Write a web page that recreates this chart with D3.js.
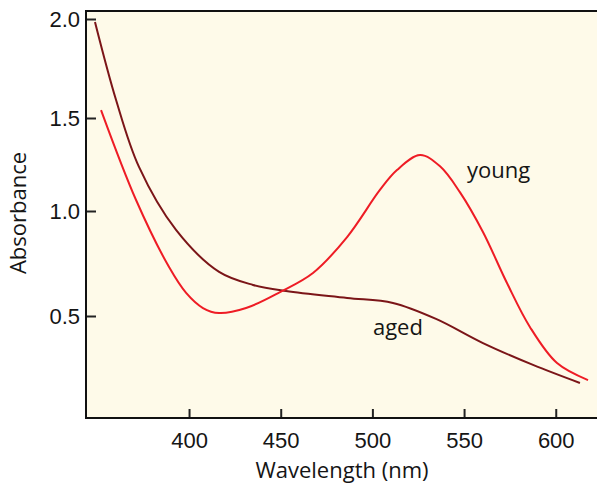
<!DOCTYPE html>
<html lang="en">
<head>
<meta charset="utf-8">
<title>Absorbance</title>
<script src="https://d3js.org/d3.v7.min.js"></script>
<style>
  body { margin: 0; background: #fff; }
  svg { display: block; font-family: "Open Sans", sans-serif; }
  .tick text { font-size: 22px; fill: #151515; }
  .tick line { stroke: #222; stroke-width: 2; }
  path.domain { display: none; }
  .label { font-size: 22px; fill: #151515; }
</style>
</head>
<body>
<div id="vis"></div>
<script>

/* Data */
/* ==== */

// aged sample: wavelength (nm) and absorbance
var agedWave = [348.7, 360.2, 372.7, 392.9, 416.4, 434.9, 452.9, 486.2, 511.2, 534.7, 560.3, 587.6, 613.2];
var agedAbs  = [1.985, 1.591, 1.237, 0.910, 0.710, 0.648, 0.619, 0.586, 0.562, 0.486, 0.371, 0.267, 0.181];

// young sample
var youngWave = [352.0, 371.1, 389.1, 398.4, 407.6, 416.4, 431.1, 449.6, 467.6, 486.2, 504.1, 513.4, 526.0, 536.9, 547.8, 560.3, 573.4, 585.9, 600.7, 617.6];
var youngAbs  = [1.540, 1.059, 0.733, 0.610, 0.538, 0.514, 0.538, 0.614, 0.705, 0.876, 1.113, 1.220, 1.301, 1.240, 1.100, 0.900, 0.657, 0.448, 0.276, 0.195];

var xTicks = [400, 450, 500, 550, 600];
var yTicks = [0.5, 1.0, 1.5, 2.0];

var seriesNames = ['aged', 'young'];
var seriesColors = ['#7b1518', '#ee1c25'];
// label anchor points in data units
var labelWave = [500.3, 551.6];
var labelAbs  = [0.41, 1.177];


function make() {

  var width = 597, height = 488;
  var margin = { top: 11, left: 86, bottom: 70, right: 0 };
  var w = width - margin.left - margin.right;
  var h = height - margin.top - margin.bottom;

  var svg = d3.select('#vis').append('svg')
      .attr('width', width)
      .attr('height', height);

  var g = svg.append('g')
      .attr('transform', 'translate(' + margin.left + ',' + margin.top + ')');

  /* Scales */
  var xScale = d3.scaleLinear().domain([343.8, 622.5]).range([0, w]);

  // the printed axis is not quite even, so the tick spacing is kept piecewise
  var yScale = d3.scaleLinear()
      .domain([0.5, 1.0, 1.5, 2.0])
      .range([305, 200, 107, 8]);

  // background panel
  g.append('rect')
      .attr('width', w)
      .attr('height', h)
      .attr('fill', '#fefae9');

  /* Axes */
  var xAxis = d3.axisBottom(xScale)
      .tickValues(xTicks)
      .tickSize(-9)
      .tickPadding(14)
      .tickFormat(d3.format('d'));

  var yAxis = d3.axisLeft(yScale)
      .tickValues(yTicks)
      .tickSize(-10)
      .tickPadding(6)
      .tickFormat(d3.format('.1f'));

  g.append('g')
      .attr('class', 'x axis')
      .attr('transform', 'translate(0,' + h + ')')
      .call(xAxis);

  g.append('g')
      .attr('class', 'y axis')
      .call(yAxis);

  // frame lines: top, left, bottom
  var frame = g.append('g').attr('stroke', '#111').attr('stroke-width', 2);
  frame.append('line').attr('x1', -1).attr('x2', w).attr('y1', 0).attr('y2', 0);
  frame.append('line').attr('x1', 0).attr('x2', 0).attr('y1', 0).attr('y2', h);
  frame.append('line').attr('x1', -1).attr('x2', w).attr('y1', h).attr('y2', h);

  /* Curves */
  var line = d3.line()
      .x(function(d) { return xScale(d[0]); })
      .y(function(d) { return yScale(d[1]); })
      .curve(d3.curveCatmullRom.alpha(0.5));

  var series = [
    d3.zip(agedWave, agedAbs),
    d3.zip(youngWave, youngAbs)
  ];

  g.selectAll('.curve')
    .data(series).enter()
    .append('path')
      .attr('class', 'curve')
      .attr('d', line)
      .attr('fill', 'none')
      .attr('stroke', function(d, i) { return seriesColors[i]; })
      .attr('stroke-width', 2);

  /* Labels */
  g.selectAll('.series-label')
    .data(seriesNames).enter()
    .append('text')
      .attr('class', 'label series-label')
      .attr('x', function(d, i) { return xScale(labelWave[i]); })
      .attr('y', function(d, i) { return yScale(labelAbs[i]); })
      .text(function(d) { return d; });

  // axis titles
  svg.append('text')
      .attr('class', 'label')
      .attr('x', 342)
      .attr('y', 478)
      .attr('text-anchor', 'middle')
      .text('Wavelength (nm)');

  svg.append('text')
      .attr('class', 'label')
      .attr('transform', 'translate(26,213) rotate(-90)')
      .attr('text-anchor', 'middle')
      .text('Absorbance');

}

make();

</script>
</body>
</html>
